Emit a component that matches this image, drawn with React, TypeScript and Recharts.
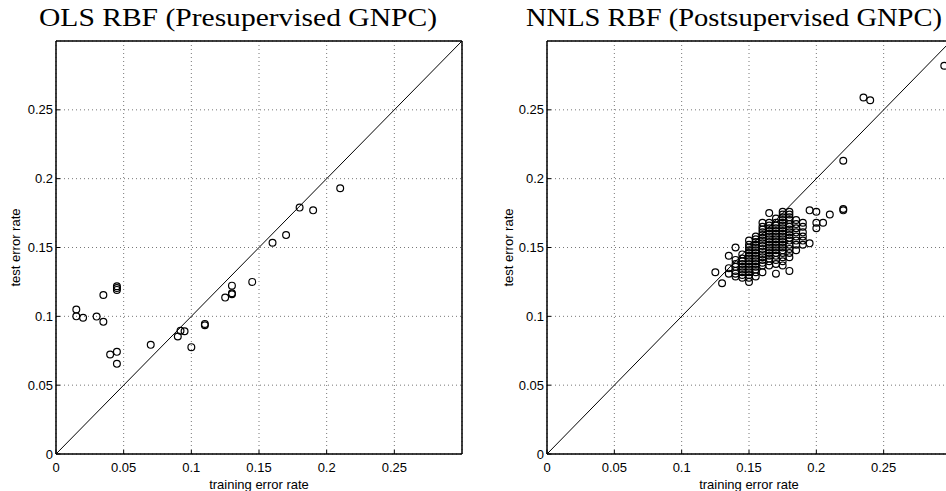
import React from "react";
import { CartesianGrid, Label, ReferenceArea, ReferenceLine, Scatter, ScatterChart, XAxis, YAxis } from "recharts";

const ticks = [0, 0.05, 0.1, 0.15, 0.2, 0.25];
const axisDomain: [number, number] = [0, 0.3];
const diagonal = [{ x: 0, y: 0 }, { x: 0.3, y: 0.3 }];

// [training error, test error]
const olsPoints: [number, number][] = [
  [0.015, 0.105], [0.015, 0.1], [0.02, 0.099], [0.03, 0.0998], [0.035, 0.1155],
  [0.035, 0.096], [0.045, 0.1218], [0.045, 0.1205], [0.045, 0.1192], [0.04, 0.0723],
  [0.045, 0.0742], [0.045, 0.0655], [0.07, 0.0793], [0.09, 0.0853], [0.092, 0.0895],
  [0.095, 0.0892], [0.1, 0.0776], [0.11, 0.0945], [0.11, 0.0935], [0.125, 0.1136],
  [0.13, 0.1223], [0.13, 0.1168], [0.13, 0.116], [0.145, 0.125], [0.16, 0.1535],
  [0.17, 0.159], [0.18, 0.179], [0.19, 0.177], [0.21, 0.193],
];

// training error -> test errors observed at that training error
const nnlsColumns: [number, number[]][] = [
  [0.125, [0.132]],
  [0.13, [0.124]],
  [0.135, [0.144, 0.135, 0.131]],
  [0.14, [0.15, 0.141, 0.138, 0.136, 0.133, 0.131, 0.129]],
  [0.145, [0.145, 0.142, 0.14, 0.138, 0.136, 0.134, 0.132, 0.13, 0.128]],
  [0.15, [0.155, 0.152, 0.15, 0.148, 0.146, 0.144, 0.142, 0.14, 0.138, 0.136, 0.134, 0.132, 0.13, 0.128, 0.125]],
  [0.155, [0.158, 0.156, 0.154, 0.152, 0.15, 0.148, 0.146, 0.144, 0.142, 0.14, 0.138, 0.136, 0.134, 0.132, 0.129]],
  [0.16, [0.168, 0.165, 0.163, 0.161, 0.159, 0.157, 0.155, 0.153, 0.151, 0.149, 0.147, 0.145, 0.143, 0.141, 0.139, 0.137, 0.132]],
  [0.165, [0.175, 0.168, 0.166, 0.164, 0.162, 0.16, 0.158, 0.156, 0.154, 0.152, 0.15, 0.148, 0.146, 0.144, 0.142, 0.14, 0.137]],
  [0.17, [0.171, 0.168, 0.166, 0.164, 0.162, 0.16, 0.158, 0.156, 0.154, 0.152, 0.15, 0.148, 0.146, 0.144, 0.141, 0.138, 0.131]],
  [0.175, [0.176, 0.174, 0.172, 0.17, 0.168, 0.166, 0.164, 0.162, 0.16, 0.158, 0.156, 0.154, 0.152, 0.15, 0.148, 0.146, 0.143, 0.14, 0.137]],
  [0.18, [0.176, 0.174, 0.172, 0.17, 0.167, 0.165, 0.163, 0.161, 0.159, 0.157, 0.155, 0.152, 0.149, 0.146, 0.143, 0.133]],
  [0.185, [0.17, 0.167, 0.164, 0.161, 0.158, 0.155, 0.152, 0.148]],
  [0.19, [0.168, 0.165, 0.161, 0.158, 0.155, 0.152]],
  [0.195, [0.177, 0.153]],
  [0.2, [0.176, 0.168, 0.164]],
  [0.205, [0.168]],
  [0.21, [0.174]],
  [0.22, [0.213, 0.177, 0.178]],
  [0.235, [0.259]],
  [0.24, [0.257]],
  [0.295, [0.282]],
];

const olsData = olsPoints.map(([x, y]) => ({ x, y }));
const nnlsData = nnlsColumns.flatMap(([x, ys]) => ys.map((y) => ({ x, y })));

const sans = "'Liberation Sans', Arial, Helvetica, sans-serif";
const tickStyle = { fill: "#000", fontSize: 13, fontFamily: sans };

const ring = (p: any) => (
  <circle cx={p.cx} cy={p.cy} r={3.4} fill="none" stroke="#000" strokeWidth={1.2} />
);

const yLabel = (dx: number) => (props: any) => {
  const vb = props.viewBox || { x: 0, y: 41, width: 0, height: 413 };
  const cx = vb.x + dx;
  const cy = vb.y + vb.height / 2;
  return (
    <text
      x={cx}
      y={cy}
      transform={`rotate(-90 ${cx} ${cy})`}
      textAnchor="middle"
      dominantBaseline="central"
      fill="#000"
      fontSize={13}
      fontFamily={sans}
    >
      test error rate
    </text>
  );
};

function Panel({
  data,
  left,
  width,
  yAxisWidth,
  marginRight,
  yLabelX,
}: {
  data: { x: number; y: number }[];
  left: number;
  width: number;
  yAxisWidth: number;
  marginRight: number;
  yLabelX: number;
}) {
  return (
    <div style={{ position: "absolute", left, top: 0 }}>
      <ScatterChart width={width} height={491} margin={{ top: 40, right: marginRight - 1, bottom: 0, left: 0 }}>
        <CartesianGrid stroke="#777" strokeDasharray="1 3" />
        <XAxis
          type="number"
          dataKey="x"
          domain={axisDomain}
          ticks={ticks}
          interval={0}
          height={37}
          tickSize={-4}
          tickMargin={13}
          axisLine={{ stroke: "#000" }}
          tickLine={{ stroke: "#000" }}
          tick={tickStyle}
          allowDataOverflow
        >
          <Label value="training error rate" position="insideBottom" offset={2} fill="#000" fontSize={13} fontFamily={sans} />
        </XAxis>
        <YAxis
          type="number"
          dataKey="y"
          domain={axisDomain}
          ticks={ticks}
          interval={0}
          width={yAxisWidth}
          tickSize={-4}
          tickMargin={7}
          axisLine={{ stroke: "#000" }}
          tickLine={{ stroke: "#000" }}
          tick={tickStyle}
          allowDataOverflow
        >
          <Label content={yLabel(yLabelX)} />
        </YAxis>
        <XAxis
          xAxisId="top"
          orientation="top"
          type="number"
          domain={axisDomain}
          ticks={ticks}
          interval={0}
          height={1}
          tickSize={-4}
          tick={false}
          axisLine={{ stroke: "#000" }}
          tickLine={{ stroke: "#000" }}
          allowDataOverflow
        />
        <YAxis
          yAxisId="right"
          orientation="right"
          type="number"
          domain={axisDomain}
          ticks={ticks}
          interval={0}
          width={1}
          tickSize={-4}
          tick={false}
          axisLine={{ stroke: "#000" }}
          tickLine={{ stroke: "#000" }}
          allowDataOverflow
        />
        <ReferenceArea x1={0} x2={0.3} y1={0} y2={0.3} fill="none" stroke="#000" strokeWidth={1} />
        <ReferenceLine segment={diagonal} stroke="#000" strokeWidth={1} />
        <Scatter data={data} shape={ring} isAnimationActive={false} />
      </ScatterChart>
    </div>
  );
}

export default function App() {
  return (
    <div
      style={{
        position: "fixed",
        left: 0,
        top: 0,
        width: 946,
        height: 491,
        overflow: "hidden",
        background: "#fff",
      }}
    >
      <Panel data={olsData} left={0} width={473} yAxisWidth={56} marginRight={11} yLabelX={15} />
      <Panel data={nnlsData} left={473} width={490} yAxisWidth={74} marginRight={12} yLabelX={35} />
      <svg width={946} height={40} style={{ position: "absolute", left: 0, top: 0 }}>
        <text x={39} y={26} textLength={398} lengthAdjust="spacingAndGlyphs" fontSize={25} fontFamily="'Liberation Serif', 'Times New Roman', serif" fill="#000">
          OLS RBF (Presupervised GNPC)
        </text>
        <text x={526} y={26} textLength={416} lengthAdjust="spacingAndGlyphs" fontSize={25} fontFamily="'Liberation Serif', 'Times New Roman', serif" fill="#000">
          NNLS RBF (Postsupervised GNPC)
        </text>
      </svg>
    </div>
  );
}
